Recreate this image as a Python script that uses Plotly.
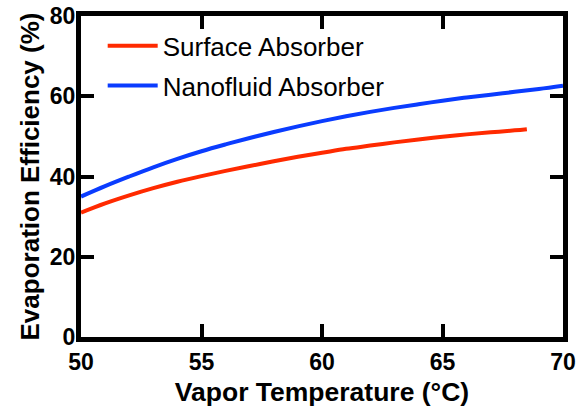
import plotly.graph_objects as go

# Surface absorber
surf_T = [50, 51, 52, 53, 54, 55, 56, 57, 58, 59, 60, 61, 62, 63, 64, 65, 66, 67, 68, 68.5]
surf_E = [31.0, 33.3, 35.3, 37.1, 38.7, 40.1, 41.4, 42.6, 43.8, 44.9, 45.9, 46.9, 47.7, 48.5, 49.2, 49.9, 50.5, 51.0, 51.5, 51.8]

# Nanofluid absorber
nano_T = [50, 51, 52, 53, 54, 55, 56, 57, 58, 59, 60, 61, 62, 63, 64, 65, 66, 67, 68, 69, 70]
nano_E = [35.0, 37.6, 40.0, 42.3, 44.4, 46.3, 48.0, 49.6, 51.1, 52.5, 53.8, 55.0, 56.1, 57.1, 58.0, 58.9, 59.7, 60.4, 61.1, 61.8, 62.6]

x_ticks = [50, 55, 60, 65, 70]
y_ticks = [0, 20, 40, 60, 80]

FONT = "Liberation Sans, Arial, sans-serif"

fig = go.Figure()
fig.add_trace(go.Scatter(x=surf_T, y=surf_E, mode="lines", name="Surface Absorber",
                         legendgroup="a",
                         line=dict(color="#ff2a00", width=4, shape="spline")))
fig.add_trace(go.Scatter(x=nano_T, y=nano_E, mode="lines", name="Nanofluid Absorber",
                         legendgroup="b",
                         line=dict(color="#0a3cff", width=4, shape="spline")))

axis_common = dict(showline=True, linewidth=5, linecolor="black", mirror="ticks",
                   ticks="inside", ticklen=13, tickwidth=4, tickcolor="black",
                   showgrid=False, zeroline=False, automargin=False,
                   tickfont=dict(family=FONT, size=23, color="black", weight="bold"))

fig.update_xaxes(range=[50, 70], tickvals=x_ticks, ticktext=[str(v) for v in x_ticks],
                 title=dict(text="Vapor Temperature (°C)", standoff=10,
                            font=dict(family=FONT, size=26.5, color="black", weight="bold")),
                 **axis_common)
fig.update_yaxes(range=[0, 80], tickvals=y_ticks, ticktext=[str(v) for v in y_ticks],
                 ticklabelstandoff=-4,
                 title=dict(text="Evaporation Efficiency (%)", standoff=4,
                            font=dict(family=FONT, size=26, color="black", weight="bold")),
                 **axis_common)

fig.update_layout(
    width=577, height=411,
    margin=dict(l=81, r=14, t=16, b=74),
    paper_bgcolor="white", plot_bgcolor="white",
    showlegend=True,
    legend=dict(x=0.045, y=0.98, xanchor="left", yanchor="top",
                bgcolor="rgba(0,0,0,0)", borderwidth=0,
                font=dict(family=FONT, size=26, color="black"),
                itemwidth=50, tracegroupgap=3),
    font=dict(family=FONT, color="black"),
)

fig.write_html("out.html")
